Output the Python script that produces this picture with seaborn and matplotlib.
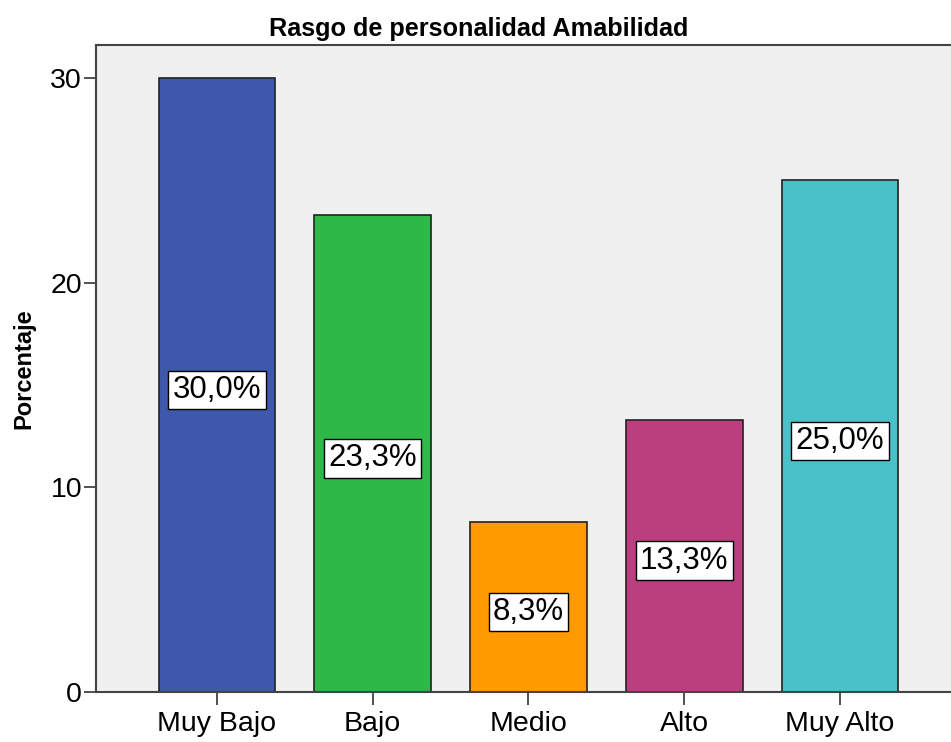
import numpy as np
import pandas as pd
import matplotlib
matplotlib.use('Agg')
import matplotlib.pyplot as plt
import matplotlib.transforms as mtransforms
import seaborn as sns

categorias = ['Muy Bajo', 'Bajo', 'Medio', 'Alto', 'Muy Alto']
porcentajes = [30.0, 23.3, 8.3, 13.3, 25.0]
etiquetas = ['30,0%', '23,3%', '8,3%', '13,3%', '25,0%']
colores = ['#3E58AC', '#2EB848', '#FF9A00', '#BB3E7E', '#4AC1C8']

sns.set_style('white')
plt.rcParams['font.family'] = ['Liberation Sans', 'DejaVu Sans']
plt.rcParams['text.color'] = 'black'
plt.rcParams['xtick.color'] = 'black'
plt.rcParams['ytick.color'] = 'black'
plt.rcParams['axes.labelcolor'] = 'black'

df = pd.DataFrame({'categoria': categorias, 'porcentaje': porcentajes})

fig = plt.figure(figsize=(9.51, 7.42), dpi=100)
ax = fig.add_axes([96 / 951, 1 - 692 / 742, 1 - 96 / 951, (692 - 45) / 742])
ax.set_facecolor('#F0F0F0')

sns.barplot(data=df, x='categoria', y='porcentaje', hue='categoria',
            palette=colores, order=categorias, hue_order=categorias,
            width=0.75, saturation=1, edgecolor='#222222', linewidth=1.2,
            legend=False, ax=ax)

# etiquetas en el centro de cada barra (un poco mas abajo, como en SPSS)
desplaz = mtransforms.offset_copy(ax.transData, fig=fig, x=0, y=-5, units='dots')
for i, (v, txt) in enumerate(zip(porcentajes, etiquetas)):
    ax.text(i, v / 2, txt, ha='center', va='center', fontsize=22.5,
            transform=desplaz,
            bbox=dict(boxstyle='square,pad=0.14', facecolor='white',
                      edgecolor='black', linewidth=1))

ax.set_xlim(-0.777, 4.713)
ax.set_ylim(0, 31.6)
ax.set_yticks([0, 10, 20, 30])
ax.tick_params(axis='both', labelsize=20.5, length=9, width=1.2,
               color='#333333', direction='out', bottom=True, left=True)
ax.tick_params(axis='x', pad=5)
ax.tick_params(axis='y', pad=1)

for s in ['left', 'bottom', 'top']:
    ax.spines[s].set_color('#444444')
    ax.spines[s].set_linewidth(1.5)
ax.spines['right'].set_visible(False)

ax.set_xlabel('')
ax.set_ylabel('Porcentaje', fontsize=17, fontweight='bold', labelpad=11)
fig.text(479 / 951, 1 - 29 / 742, 'Rasgo de personalidad Amabilidad',
         fontsize=18.2, fontweight='bold', ha='center', va='center')

fig.savefig('out.png', dpi=100)
